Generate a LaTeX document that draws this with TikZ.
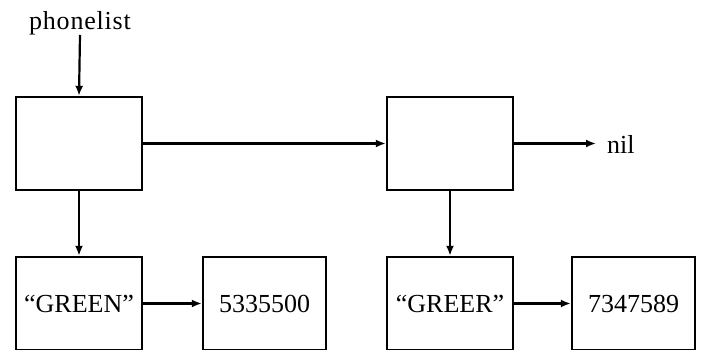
\documentclass[tikz,border=0pt]{standalone}
\usepackage{fontspec}
\setmainfont{Liberation Serif}
\usetikzlibrary{arrows.meta}
\begin{document}
\begin{tikzpicture}[x=1pt,y=-1pt,
  cell/.style={draw, line width=2.4pt, minimum width=126pt, minimum height=93pt, inner sep=0pt, font=\fontsize{26}{30}\selectfont},
  cellb/.style={cell, minimum width=123pt, minimum height=93pt},
  cellg/.style={cell, minimum height=93pt},
  lbl/.style={inner sep=0pt, font=\fontsize{26}{30}\selectfont},
  ptr/.style={-{Latex[length=10pt,width=8pt]}, line width=2.2pt}]
\useasboundingbox (0,0) rectangle (705,349);
\clip (0,0) rectangle (705,349);
\node[lbl] (pl) at (80,23) {\addfontfeature{LetterSpace=3}phonelist};
\node[cell] (b1) at (79,143.5) {};
\node[cell] (b2) at (450,143.5) {};
\node[lbl, anchor=west] (nil) at (607,144) {nil};
\coordinate (nilend) at (596,143.5);
\node[cellg] (g1) at (79,303.5) {``GREEN''};
\node[cellb] (n1) at (264.5,303.5) {5335500};
\node[cellg] (g2) at (450,303.5) {``GREER''};
\node[cellb] (n2) at (633.5,303.5) {7347589};
\draw[ptr] (pl.south) -- (b1.north);
\draw[ptr] (b1.east) -- (b2.west);
\draw[ptr] (b2.east) -- (nilend);
\draw[ptr] (b1.south) -- (g1.north);
\draw[ptr] (b2.south) -- (g2.north);
\draw[ptr] (g1.east) -- (n1.west);
\draw[ptr] (g2.east) -- (n2.west);
\end{tikzpicture}
\end{document}
